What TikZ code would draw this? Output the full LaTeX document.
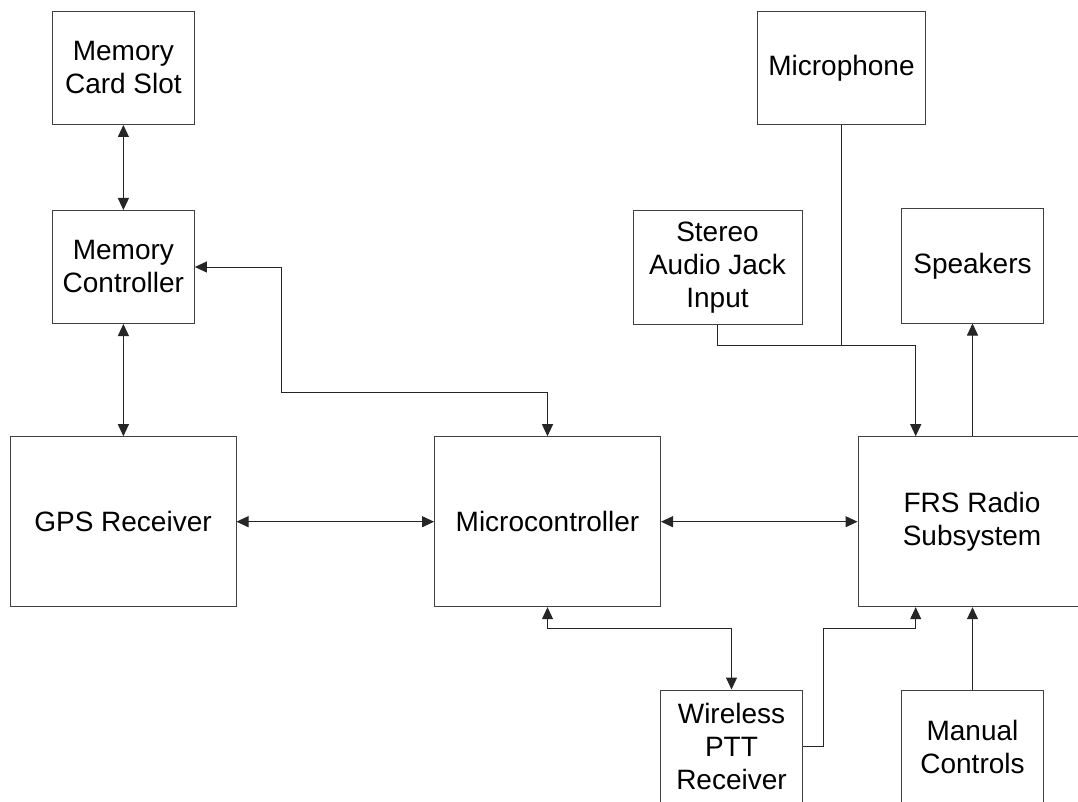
\documentclass[tikz,border=0pt]{standalone}
\usepackage{fontspec}
\setmainfont{Liberation Sans}
\usetikzlibrary{arrows.meta,calc}
\begin{document}
\begin{tikzpicture}[x=1pt,y=-1pt,
  box/.style={draw=black!75,line width=1pt,fill=white,inner sep=0pt,align=center,
    font=\fontsize{28}{33}\selectfont},
  bi/.style={draw=black!85,line width=1pt,{Triangle[length=12pt,width=11pt]}-{Triangle[length=12pt,width=11pt]}},
  arr/.style={draw=black!85,line width=1pt,-{Triangle[length=12pt,width=11pt]}},
  ln/.style={draw=black!85,line width=1pt}]
\useasboundingbox (0,0) rectangle (1078,802);
\fill[white] (0,0) rectangle (1078,802);
% nodes
\node[box,minimum width=142,minimum height=113] (mcs) at (123.4,68) {Memory\\Card Slot};
\node[box,minimum width=142,minimum height=113] (mc) at (123.4,267) {Memory\\Controller};
\node[box,minimum width=226,minimum height=170] (gps) at (123,521.7) {GPS Receiver};
\node[box,minimum width=226,minimum height=170] (micro) at (547.5,521.7) {Microcontroller};
\node[box,minimum width=228,minimum height=170] (frs) at (972,521.7) {FRS Radio\\Subsystem};
\node[box,minimum width=168,minimum height=113] (mic) at (841.5,68) {Microphone};
\node[box,minimum width=169,minimum height=114] (saj) at (717.5,267.5) {Stereo\\Audio Jack\\Input};
\node[box,minimum width=142,minimum height=114] (spk) at (972.5,266) {Speakers};
\node[box,minimum width=142,minimum height=113] (ptt) at (731.5,746.5) {Wireless\\PTT\\Receiver};
\node[box,minimum width=142,minimum height=113] (man) at (972.5,746.5) {Manual\\Controls};
% coordinates
\coordinate (k1) at (281,392);
\coordinate (k2) at (731.5,628);
\coordinate (k3) at (823,628);
\coordinate (j) at (915.7,345.7);
% connectors
\draw[bi] (mcs) -- (mc);
\draw[bi] (mc) -- (mc.south |- gps.north);
\draw[bi] (mc.east) -| (k1) -| (micro.north);
\draw[bi] (gps) -- (micro);
\draw[bi] (micro) -- (frs);
\draw[bi] (micro.south) |- (k2) -- (ptt.north);
\draw[arr] (ptt.east) -| (k3) -| (j |- frs.south);
\draw[arr] (man.north) -- (frs.south -| man.north);
\draw[arr] (frs.north -| spk.south) -- (spk.south);
\draw[ln] (mic.south) -- (mic.south |- j);
\draw[arr] (saj.south) |- (j) -- (j |- frs.north);
\end{tikzpicture}
\end{document}
